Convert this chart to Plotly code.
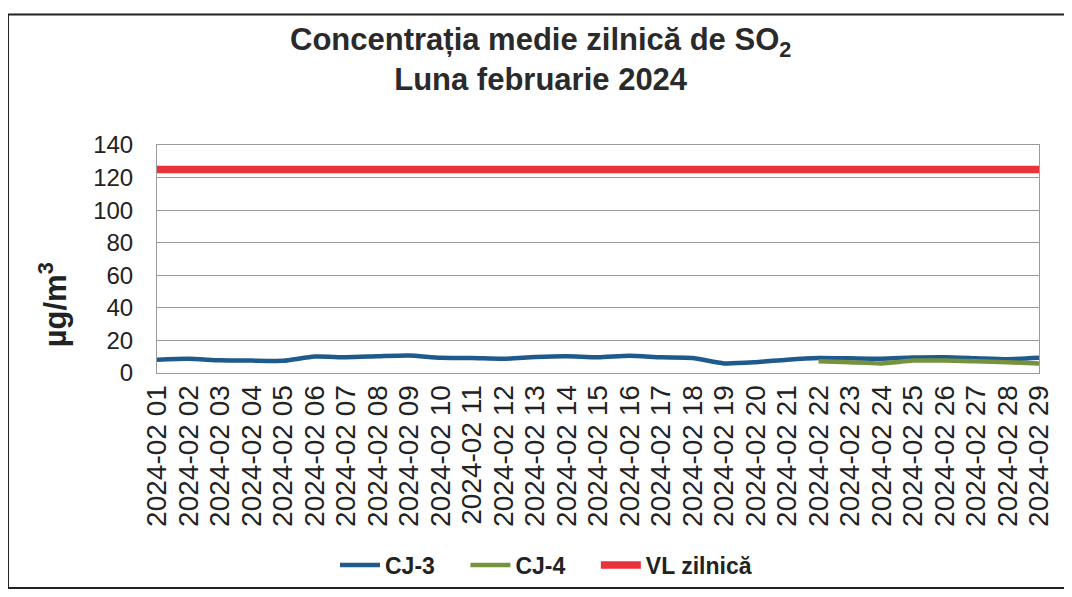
import plotly.graph_objects as go

# ---- data ----
days = [f"2024-02 {d:02d}" for d in range(1, 30)]

cj3 = [8.2, 8.7, 7.8, 7.6, 7.5, 10.1, 9.7, 10.3, 10.8, 9.3,
       9.2, 8.7, 9.8, 10.3, 9.7, 10.6, 9.6, 9.2, 5.9, 6.6,
       8.2, 9.2, 9.0, 8.8, 9.5, 9.7, 9.1, 8.5, 9.3]

# CJ-4 only reports from 22 Feb on
cj4_days = days[21:]
cj4 = [7.2, 6.6, 5.9, 7.6, 7.7, 7.2, 6.6, 5.8]

vl_zilnica = [125] * len(days)

# ---- figure geometry ----
# the page body adds an 8px margin, so the figure is shrunk by that much
OFF = 8
W, H = 1072 - OFF, 597 - OFF
ML, MR, MT, MB = 157 - OFF, 33, 145 - OFF, 223
PW, PH = W - ML - MR, H - MT - MB

FONT = "Liberation Sans, Arial, sans-serif"
GAP = "\u00a0" * 4  # extra room between legend entries


def px_x(p):
    # screen pixel -> paper coordinate
    return (p - OFF - ML) / PW


def px_y(p):
    return (H - MB - (p - OFF)) / PH


fig = go.Figure()

fig.add_trace(go.Scatter(
    x=days, y=cj3, mode="lines", name="<b>CJ-3</b>" + GAP,
    line=dict(color="#1F5A8C", width=4.5, shape="spline", smoothing=0.6),
))
fig.add_trace(go.Scatter(
    x=cj4_days, y=cj4, mode="lines", name="<b>CJ-4</b>" + GAP,
    line=dict(color="#76923C", width=4.5, shape="spline", smoothing=0.6),
))
fig.add_trace(go.Scatter(
    x=days, y=vl_zilnica, mode="lines", name="<b>VL zilnică</b>",
    line=dict(color="#E8323C", width=7.5),
))

# outer chart frame (scan border)
fig.add_shape(type="rect", xref="paper", yref="paper",
              x0=px_x(8), x1=px_x(1090), y0=px_y(590), y1=px_y(14),
              line=dict(color="#222222", width=2), fillcolor="rgba(0,0,0,0)",
              layer="below")

# title
fig.add_annotation(
    xref="paper", yref="paper", x=px_x(540), y=px_y(59),
    xanchor="center", yanchor="middle", showarrow=False, align="center",
    text="<b>Concentrația medie zilnică de SO<sub>2</sub><br>Luna februarie 2024</b>",
    font=dict(size=31, family=FONT, color="#2a2a2a"),
)

# y axis title
fig.add_annotation(
    xref="paper", yref="paper", x=px_x(53), y=px_y(306),
    xanchor="center", yanchor="middle", showarrow=False, textangle=-90,
    text="<b>µg/m<sup>3</sup></b>",
    font=dict(size=31, family=FONT, color="#222222"),
)

fig.update_layout(
    width=W, height=H,
    margin=dict(l=ML, r=MR, t=MT, b=MB),
    paper_bgcolor="white", plot_bgcolor="white",
    font=dict(family=FONT, color="#222222"),
    showlegend=True,
    legend=dict(
        orientation="h", x=px_x(335), xanchor="left", y=px_y(565), yanchor="middle",
        font=dict(size=23, family=FONT, color="#222222"),
        itemwidth=40, traceorder="normal",
    ),
    xaxis=dict(
        type="category", range=[0, 28], tickangle=-90,
        tickmode="linear", tick0=0, dtick=1, automargin=False,
        tickfont=dict(size=28, family=FONT, color="#222222"),
        showgrid=False, showline=True, linecolor="#9a9a9a", linewidth=1,
        mirror=True, ticks="", ticklen=0,
    ),
    yaxis=dict(
        range=[0, 140], dtick=20, automargin=False,
        tickfont=dict(size=24, family=FONT, color="#222222"),
        ticklabelstandoff=18,
        showgrid=True, gridcolor="#9a9a9a", gridwidth=1,
        showline=True, linecolor="#9a9a9a", linewidth=1, mirror=True,
        zeroline=False, ticks="",
    ),
)

fig.write_html("out.html")
